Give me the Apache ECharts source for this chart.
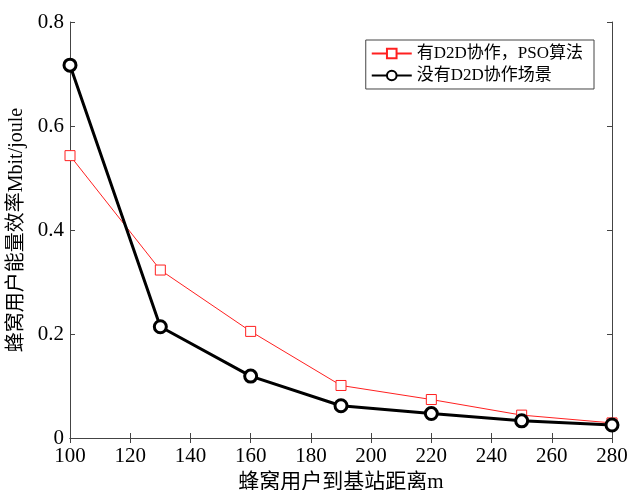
<!DOCTYPE html>
<html>
<head>
<meta charset="utf-8">
<script src="https://cdn.jsdelivr.net/npm/echarts@6/dist/echarts.min.js"></script>
</head>
<body style="margin:0">
<div id="main" style="width:630px;height:490px"></div>
<script>
var distances = [100, 130, 160, 190, 220, 250, 280];
var psoValues = [0.543, 0.323, 0.205, 0.101, 0.074, 0.044, 0.029];
var noD2dValues = [0.717, 0.214, 0.119, 0.062, 0.047, 0.033, 0.025];
var seriesNames = ['有D2D协作，PSO算法', '没有D2D协作场景'];

function pairs(xs, ys) {
  return xs.map(function (x, i) { return [x, ys[i]]; });
}

var font = '"Liberation Serif", "Times New Roman", "Noto Sans CJK SC", serif';
var chart = echarts.init(document.getElementById('main'));
var boxAxis = { lineStyle: { color: '#444', width: 1 } };

chart.setOption({
  backgroundColor: '#fff',
  animation: false,
  grid: { left: 70, right: 18, top: 22, bottom: 52, outerBoundsMode: 'none', containLabel: false },
  legend: {
    orient: 'vertical',
    right: 36, top: 40,
    backgroundColor: '#fff',
    borderColor: '#444', borderWidth: 1, borderRadius: 0,
    padding: [5, 11, 5, 5],
    itemGap: 5, itemWidth: 40, itemHeight: 12,
    textStyle: { fontFamily: font, fontSize: 17, color: '#000' },
    data: seriesNames
  },
  xAxis: [{
    type: 'value', min: 100, max: 280, interval: 20,
    axisLine: boxAxis,
    axisTick: { inside: true, length: 5, lineStyle: { color: '#444' } },
    axisLabel: { fontFamily: font, fontSize: 21, color: '#000', margin: 8 },
    splitLine: { show: false },
    name: '蜂窝用户到基站距离m', nameLocation: 'middle', nameGap: 33,
    nameTextStyle: { fontFamily: font, fontSize: 21, color: '#000' }
  }, {
    type: 'value', position: 'top', min: 100, max: 280, interval: 20,
    axisLine: boxAxis,
    axisTick: { inside: true, length: 5, lineStyle: { color: '#444' } },
    axisLabel: { show: false }, splitLine: { show: false }
  }],
  yAxis: [{
    type: 'value', min: 0, max: 0.8, interval: 0.2,
    axisLine: { show: true, lineStyle: { color: '#444', width: 1 } },
    axisTick: { show: true, inside: true, length: 5, lineStyle: { color: '#444' } },
    axisLabel: { fontFamily: font, fontSize: 21, color: '#000', margin: 6,
      formatter: function (v) { return v === 0 ? '0' : v.toFixed(1); } },
    splitLine: { show: false },
    name: '蜂窝用户能量效率Mbit/joule', nameLocation: 'middle', nameGap: 37,
    nameTextStyle: { fontFamily: font, fontSize: 20, color: '#000' }
  }, {
    type: 'value', position: 'right', min: 0, max: 0.8, interval: 0.2,
    axisLine: { show: true, lineStyle: { color: '#444', width: 1 } },
    axisTick: { show: true, inside: true, length: 5, lineStyle: { color: '#444' } },
    axisLabel: { show: false }, splitLine: { show: false }
  }],
  series: [{
    name: seriesNames[0], type: 'line',
    data: pairs(distances, psoValues),
    symbol: 'rect', symbolSize: 10,
    itemStyle: { color: '#fff', borderColor: '#ff2020', borderWidth: 1 },
    lineStyle: { color: '#ff2020', width: 1 },
    z: 2
  }, {
    name: seriesNames[1], type: 'line',
    data: pairs(distances, noD2dValues),
    symbol: 'circle', symbolSize: 12,
    itemStyle: { color: '#fff', borderColor: '#000', borderWidth: 3 },
    lineStyle: { color: '#000', width: 3 },
    z: 3
  }]
});
</script>
</body>
</html>
